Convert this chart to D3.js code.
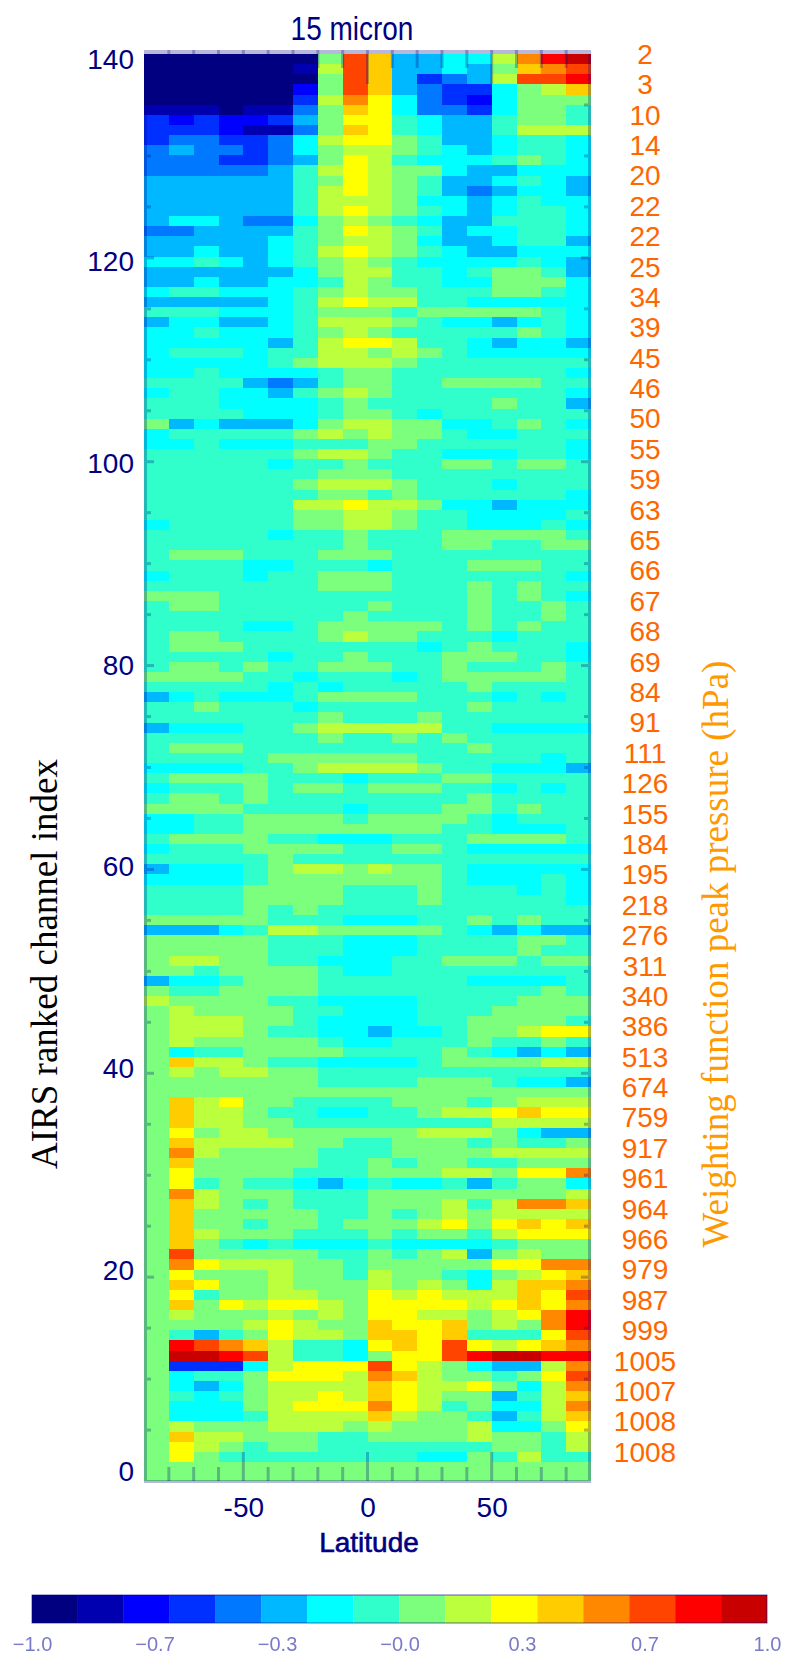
<!DOCTYPE html>
<meta charset="utf-8">
<style>
body { margin: 0; background: #fff; }
text { font-family: "Liberation Sans", Arial, sans-serif; }
.serif { font-family: "Liberation Serif", "Times New Roman", serif; }
</style>
<body>
<script src="https://cdn.jsdelivr.net/npm/d3@7/dist/d3.min.js"></script>
<script>

var latitudeEdges = [-90,-80,-70,-60,-50,-40,-30,-20,-10,0,10,20,30,40,50,60,70,80,90];

var yTicks = [0,20,40,60,80,100,120,140];
var xTicks = [-50,0,50];

var pressureLabels = [2,3,10,14,20,22,22,25,34,39,45,46,50,55,59,63,65,66,67,68,69,84,91,111,126,155,184,195,218,276,311,340,386,513,674,759,917,961,964,966,979,987,999,1005,1007,1008,1008];

var bandColors = ["#000080","#0000b0","#0000ff","#0030ff","#0078ff","#00b8ff","#00ffff","#30ffcc","#7cff7c","#bcff3c","#ffff00","#ffcc00","#ff8800","#ff4400","#ff0000","#c80000"];

var colorbarTicks = [-1,-2/3,-1/3,0,1/3,2/3,1];
var colorbarLabels = ["\u22121.0","\u22120.7","\u22120.3","\u22120.0","0.3","0.7","1.0"];

// channel 139 (top) down to channel 0 (bottom), one value per latitude bin
var correlation = [
[-.9,-.9,-.9,-.9,-.9,-.9,-.9,.1,.7,.4,-.3,-.3,-.2,-.2,.2,.6,.8,.9],
[-.9,-.9,-.9,-.9,-.9,-.9,-.8,.2,.7,.4,-.3,-.3,-.2,-.3,.1,.4,.6,.7],
[-.9,-.9,-.9,-.9,-.9,-.9,-.9,.1,.7,.4,-.3,-.6,-.4,-.3,.2,.7,.7,.8],
[-.9,-.9,-.9,-.9,-.9,-.9,-.7,.1,.7,.4,-.3,-.4,-.6,-.6,-.2,.1,.2,.4],
[-.9,-.9,-.9,-.9,-.9,-.9,-.6,.2,.6,.3,-.2,-.4,-.6,-.7,-.2,.1,.1,.1],
[-.8,-.8,-.8,-.9,-.8,-.8,-.4,.1,.4,.3,-.2,-.4,-.4,-.6,-.2,.1,.1,-.1],
[-.6,-.7,-.6,-.7,-.7,-.6,-.3,.1,.3,.3,-.1,-.2,-.3,-.3,-.1,.1,.1,-.1],
[-.6,-.6,-.6,-.7,-.8,-.8,-.4,.1,.4,.3,-.1,-.2,-.3,-.3,-.1,.2,.2,.2],
[-.6,-.4,-.4,-.6,-.6,-.4,-.2,.2,.3,.3,.1,-.1,-.3,-.3,-.2,-.1,-.1,-.2],
[-.4,-.3,-.4,-.4,-.6,-.4,-.2,.1,.2,.2,.1,-.1,-.2,-.3,-.2,-.1,-.1,-.2],
[-.4,-.4,-.4,-.6,-.6,-.4,-.3,.1,.3,.2,-.1,-.2,-.2,-.2,-.1,.1,-.1,-.2],
[-.4,-.4,-.4,-.4,-.4,-.3,-.1,.2,.3,.2,.1,.1,-.2,-.3,-.3,-.2,-.2,-.2],
[-.3,-.3,-.3,-.3,-.3,-.3,-.1,.1,.3,.2,.1,-.1,-.3,-.3,-.2,-.1,-.2,-.3],
[-.3,-.3,-.3,-.3,-.3,-.3,-.1,.2,.3,.2,.1,-.1,-.3,-.4,-.3,-.2,-.2,-.3],
[-.3,-.3,-.3,-.3,-.3,-.3,-.1,.2,.2,.2,.1,-.2,-.2,-.3,-.2,-.1,-.2,-.2],
[-.3,-.3,-.3,-.3,-.3,-.3,-.1,.2,.3,.2,.1,-.1,-.2,-.3,-.2,-.1,-.1,-.2],
[-.3,-.2,-.2,-.3,-.4,-.4,-.2,.1,.2,.1,-.1,-.2,-.3,-.3,-.1,-.1,-.1,-.2],
[-.4,-.4,-.3,-.3,-.3,-.3,-.1,.1,.3,.2,.1,-.1,-.3,-.2,-.2,-.1,-.1,-.2],
[-.3,-.3,-.3,-.3,-.3,-.2,-.1,.1,.2,.2,.1,-.2,-.3,-.3,-.2,-.1,-.1,-.3],
[-.3,-.3,-.2,-.3,-.3,-.2,-.1,.2,.3,.2,.1,-.1,-.2,-.3,-.3,-.2,-.2,-.2],
[-.2,-.2,-.1,-.2,-.3,-.2,-.1,.1,.2,.1,-.1,-.2,-.2,-.2,-.2,-.1,-.2,-.3],
[-.3,-.3,-.3,-.3,-.3,-.3,-.2,.1,.2,.2,-.1,-.1,-.2,-.1,.1,.1,-.1,-.3],
[-.3,-.3,-.2,-.3,-.3,-.2,-.2,-.1,.2,.1,-.1,-.1,-.2,-.2,.1,.1,.1,-.2],
[-.2,-.1,-.1,-.2,-.2,-.2,-.1,.1,.2,.1,.1,-.1,-.1,-.1,.1,.1,-.1,-.2],
[-.3,-.3,-.3,-.3,-.3,-.2,-.1,.2,.3,.2,.2,-.1,-.1,-.2,-.2,-.2,-.2,-.2],
[-.1,-.1,-.1,-.2,-.2,-.2,-.1,.1,.1,.1,-.1,.1,.1,.1,.1,.1,-.1,-.2],
[-.3,-.2,-.2,-.3,-.3,-.2,-.1,.2,.2,.2,.1,-.1,-.2,-.2,-.3,-.2,-.1,-.2],
[-.2,-.2,-.1,-.2,-.2,-.2,-.1,.1,.2,.1,-.1,-.1,-.1,-.1,-.1,.1,-.1,-.2],
[-.2,-.2,-.2,-.2,-.2,-.3,-.1,.2,.3,.3,.2,-.1,-.1,-.2,-.3,-.2,-.2,-.3],
[-.2,-.1,-.1,-.1,-.2,-.1,-.1,.2,.2,.1,.2,.1,-.1,-.2,-.2,-.2,-.2,-.2],
[-.2,-.2,-.2,-.2,-.2,-.1,.1,.2,.2,.2,.1,-.1,-.1,-.1,-.1,-.1,-.1,-.1],
[-.2,-.2,-.1,-.2,-.2,-.2,-.2,-.1,.1,.1,-.1,-.1,-.1,-.1,-.1,-.1,-.1,-.2],
[-.1,-.1,-.1,-.1,-.3,-.4,-.3,-.1,.1,.1,-.1,-.1,.1,.1,.1,.1,-.1,-.1],
[-.2,-.1,-.1,-.2,-.2,-.3,-.1,.1,.2,.1,-.1,-.1,-.1,-.1,-.1,-.1,-.1,-.2],
[-.1,-.1,-.1,-.2,-.2,-.2,-.2,-.1,.1,-.1,-.1,-.1,-.1,-.1,.1,-.1,-.1,-.3],
[-.1,-.1,-.1,-.1,-.2,-.2,-.2,-.1,.1,.1,-.1,-.2,-.1,-.1,-.1,-.1,-.1,-.1],
[.1,-.3,-.2,-.3,-.3,-.3,-.2,.1,.2,.2,.1,.1,-.2,-.2,-.1,.1,-.1,-.2],
[-.2,-.1,-.1,-.1,-.1,-.1,.1,.2,.1,.2,.1,.1,-.1,-.2,-.2,-.1,-.1,-.1],
[-.2,-.2,-.1,-.2,-.2,-.2,-.1,-.1,-.1,.1,.1,-.1,-.1,-.1,-.1,-.1,-.1,-.2],
[-.1,-.1,-.1,-.1,-.1,-.1,.1,.2,.2,.1,-.1,-.1,-.2,-.2,-.2,-.1,-.1,-.2],
[-.1,-.1,-.1,-.1,-.1,-.2,-.1,-.1,.1,-.1,-.1,-.1,.1,.1,-.1,.1,.1,-.1],
[-.1,-.1,-.1,-.1,-.1,-.1,-.1,.1,.1,.1,-.1,-.1,-.1,-.1,-.1,-.1,-.1,-.1],
[-.1,-.1,-.1,-.1,-.1,-.1,.1,.2,.2,.2,.1,-.1,-.1,-.1,-.2,-.1,-.1,-.1],
[-.1,-.1,-.1,-.1,-.1,-.1,-.1,.1,.1,-.1,.1,-.1,-.1,-.1,-.1,-.1,-.1,-.2],
[-.1,-.1,-.1,-.1,-.1,-.1,.2,.2,.3,.2,.2,.1,-.2,-.2,-.3,-.2,-.2,-.2],
[-.1,-.1,-.1,-.1,-.1,-.1,.1,.1,.2,.2,.1,-.1,-.1,-.2,-.2,-.2,-.2,-.1],
[-.2,-.1,-.1,-.1,-.1,-.1,.1,.1,.2,.2,.1,-.1,-.1,-.2,-.2,-.2,-.1,-.2],
[-.1,-.1,-.1,-.1,-.1,-.2,-.1,-.1,.1,-.1,-.1,-.1,.1,.1,.1,.1,.1,-.1],
[-.1,-.1,-.1,-.1,-.1,-.1,-.1,-.1,.1,-.1,-.1,-.1,.1,.1,-.1,-.1,.1,.1],
[-.1,.1,.1,.1,-.1,-.1,-.1,.1,.1,.1,-.1,-.1,-.1,-.1,-.1,-.1,-.1,-.1],
[-.1,-.1,-.1,-.1,-.2,-.2,-.1,-.1,-.1,-.2,-.1,-.1,-.1,.1,.1,.1,-.1,-.1],
[-.2,-.1,-.1,-.1,-.2,-.1,-.1,.1,.1,.1,-.1,-.1,-.1,-.1,-.1,-.1,-.1,-.2],
[-.1,-.1,-.1,-.1,-.1,-.1,-.1,.1,.1,.1,-.1,-.1,-.1,.1,-.1,.1,-.1,-.1],
[.1,.1,.1,-.1,-.1,-.1,-.1,-.1,-.1,-.1,-.1,-.1,-.1,.1,-.1,.1,-.1,-.2],
[-.1,.1,.1,-.1,-.1,-.1,-.1,-.1,-.1,.1,-.1,-.1,-.1,.1,-.1,-.1,.1,-.1],
[-.1,-.1,-.1,-.1,-.1,-.1,-.1,-.1,.1,-.1,-.1,-.1,-.1,.1,-.1,-.1,.1,-.1],
[-.1,-.1,-.1,-.1,-.2,-.2,-.1,.1,.1,.1,.1,.1,-.1,.1,-.1,.1,-.1,-.1],
[-.1,.1,.1,-.1,-.1,-.1,-.1,.1,.2,.1,.1,-.1,-.1,-.1,-.2,-.1,-.1,-.1],
[-.1,.1,.1,.1,-.1,-.1,-.1,-.1,-.1,-.1,-.1,-.2,-.1,.1,-.1,-.1,-.1,-.2],
[-.1,-.1,-.1,-.1,-.1,-.2,-.1,-.1,.1,-.1,-.1,-.1,.1,.1,.1,-.1,-.1,-.2],
[-.1,.1,.1,-.1,.1,-.1,-.1,.1,.1,.1,-.1,-.1,.1,-.1,-.1,-.1,.1,-.1],
[.1,.1,.1,.1,-.1,-.1,-.2,-.1,-.1,-.1,-.2,-.1,.1,.1,.1,.1,.1,-.1],
[-.1,-.1,-.1,-.1,-.1,-.2,-.1,-.2,-.1,-.1,-.1,-.1,-.1,.1,-.1,-.1,-.1,-.1],
[-.3,-.2,-.1,-.2,-.2,-.2,-.1,.1,.1,.1,.1,-.1,-.1,-.1,-.2,-.1,-.2,-.1],
[-.1,-.1,.1,-.1,-.1,-.1,-.2,-.1,-.1,-.1,-.1,-.1,-.1,.1,-.1,-.1,-.1,-.1],
[-.1,-.1,-.1,-.1,-.1,-.1,-.1,.1,-.1,-.1,-.1,.1,-.1,-.1,-.1,-.1,-.1,-.1],
[-.3,-.2,-.2,-.2,-.1,-.1,.1,.2,.2,.2,.2,.2,-.1,-.1,-.2,-.2,-.2,-.2],
[-.1,-.1,-.1,-.1,-.1,-.1,-.1,.1,-.1,-.1,.1,-.1,.1,-.1,-.1,-.1,-.1,-.1],
[-.1,.1,.1,.1,-.1,-.1,-.1,-.1,-.1,-.1,-.1,-.1,-.1,.1,-.1,-.1,-.1,-.1],
[-.1,-.1,-.1,-.1,-.1,.1,.1,.1,.1,.1,.1,-.1,-.1,-.1,-.1,-.1,-.2,-.1],
[-.2,-.2,-.2,-.2,-.1,-.1,.1,.2,.2,.2,.2,.1,-.1,-.1,-.2,-.2,-.2,-.3],
[-.1,.1,.1,.1,.1,-.1,-.1,-.1,-.2,-.1,-.1,-.1,.1,.1,-.1,-.1,-.1,-.1],
[-.2,-.1,-.1,-.1,.1,-.1,.1,.1,-.1,.1,.1,.1,-.1,-.1,-.2,-.1,-.2,-.1],
[-.1,.1,.1,-.1,.1,-.1,-.1,-.1,-.1,-.1,-.1,-.1,-.1,.1,-.1,-.1,-.1,-.1],
[.1,.1,.1,.1,-.1,-.1,-.1,-.1,-.2,-.1,-.1,-.1,.1,.1,-.1,.1,-.1,-.1],
[-.2,-.2,-.1,-.1,.1,.1,.1,.1,-.1,.1,.1,.1,.1,-.1,-.2,-.1,-.1,-.1],
[-.2,-.2,-.1,-.1,.1,.1,.1,.1,.1,.1,.1,.1,-.1,-.1,-.2,-.2,-.2,-.1],
[-.1,.1,.1,.1,.1,-.1,-.1,-.2,-.2,-.2,-.1,-.1,-.1,.1,.1,.1,.1,-.1],
[-.2,-.1,-.1,-.1,.1,.1,.1,.1,-.1,-.1,.1,.1,-.1,-.2,-.2,-.2,-.2,-.2],
[-.1,-.1,-.1,-.1,-.1,.1,-.1,-.1,-.1,-.1,-.1,-.1,-.1,-.1,-.1,-.1,-.1,-.1],
[-.3,-.2,-.2,-.2,-.1,.1,.2,.2,.1,.2,.1,.1,-.1,-.2,-.2,-.2,-.2,-.2],
[-.2,-.2,-.2,-.2,-.1,.1,.1,.1,.1,.1,.1,.1,-.1,-.2,-.2,-.2,-.1,-.2],
[-.1,-.1,-.1,-.1,.1,.1,.1,.1,-.1,-.1,-.1,.1,-.1,-.1,-.1,-.2,-.1,-.2],
[-.1,-.1,-.1,-.1,.1,.1,.1,.1,-.1,-.1,-.1,.1,-.1,-.1,-.1,-.1,-.1,-.2],
[-.1,-.1,-.1,-.1,.1,-.1,.1,-.1,-.1,-.1,-.1,-.1,-.1,-.1,-.1,-.1,-.1,-.1],
[.1,.1,.1,.1,.1,-.1,-.1,-.1,-.2,-.2,-.2,-.1,-.1,.1,-.1,.1,-.1,-.1],
[-.3,-.3,-.3,-.2,-.1,.2,.2,.1,.1,.1,.1,.1,-.1,-.2,-.3,-.2,-.3,-.3],
[.1,.1,.1,.1,.1,-.1,-.1,-.1,-.2,-.2,-.2,-.1,-.1,-.1,-.1,.1,.1,-.1],
[.1,.1,.1,.1,.1,-.1,-.1,-.1,-.2,-.2,-.2,-.1,-.1,-.1,-.1,.1,-.1,-.1],
[.1,.2,.2,.1,.1,-.1,-.1,-.2,-.2,-.2,-.1,-.1,.1,.1,.1,-.1,.1,.1],
[.1,.1,-.1,.1,.1,.1,.1,-.1,-.2,-.2,-.1,-.1,-.1,-.1,-.1,-.1,-.1,-.1],
[-.3,-.2,-.2,-.1,.1,.1,.1,-.1,-.1,-.1,-.1,-.1,-.1,-.2,-.2,-.2,-.2,-.1],
[.1,-.1,-.1,.1,.1,.1,.1,-.1,-.1,-.1,-.1,-.1,-.1,-.1,-.1,-.1,.1,-.1],
[.2,.1,.1,.1,.1,-.1,-.1,-.2,-.2,-.2,-.2,-.1,-.1,-.1,-.1,.1,.1,.1],
[.1,.2,.1,.1,.1,.1,-.1,-.1,-.2,-.2,-.2,-.1,-.1,-.1,.1,.1,.1,.1],
[.1,.2,.2,.2,.1,.1,-.1,-.2,-.2,-.2,-.2,-.1,-.1,.1,.1,.1,.1,-.1],
[.1,.2,.2,.2,.1,-.1,-.1,-.2,-.2,-.3,-.2,-.2,-.1,.1,.1,.2,.3,.3],
[.1,.2,.1,.1,.1,.1,.1,-.1,-.2,-.2,-.1,-.1,-.1,.1,-.1,-.1,.1,-.1],
[.1,-.2,-.1,-.1,.1,.1,.1,.1,-.1,-.1,-.1,-.1,.1,-.1,-.2,-.3,-.2,-.3],
[.1,.4,.2,.2,.1,-.1,-.1,-.2,-.2,-.2,-.2,-.1,.1,.1,.1,.1,.2,.2],
[.1,.2,.1,.2,.2,.1,.1,-.1,-.1,-.1,-.1,-.1,-.1,-.1,-.1,-.1,-.1,-.1],
[.1,.1,.1,.1,.1,.1,.1,-.1,-.1,-.1,-.1,.1,.1,.1,-.1,-.2,-.2,-.3],
[.1,.1,.1,.1,.1,.1,.1,.1,.1,.1,.1,.1,.1,.1,.1,.1,.1,.1],
[.1,.4,.2,.3,.1,.1,-.1,-.1,-.1,-.1,.1,.1,.1,-.1,.1,.2,.2,.2],
[.1,.4,.2,.2,.1,-.1,-.1,-.2,-.2,-.1,-.1,.1,.2,.2,.3,.4,.3,.3],
[.1,.4,.2,.2,.1,.1,-.1,-.1,-.1,-.1,-.1,-.1,-.1,-.1,.2,.2,.2,.2],
[.1,.3,.1,.2,.2,.1,.1,.1,.1,.1,.1,.2,.2,.2,.1,-.2,-.3,-.3],
[.1,.4,.2,.2,.2,.2,.1,.1,-.1,-.1,.1,.1,.1,-.1,.1,-.1,-.1,.1],
[.1,.6,.2,.1,.1,.1,.1,-.1,-.1,-.1,.1,.1,.1,.1,.2,.2,.2,.2],
[.1,.4,.1,.1,.1,.1,.1,-.1,-.1,.1,-.1,.1,.1,-.1,-.1,.1,.1,.1],
[.1,.3,.1,.1,.1,.1,-.1,-.1,-.1,.1,.1,.1,.2,.2,.1,.3,.3,.6],
[.1,.3,-.1,.1,-.1,-.1,-.2,-.3,-.2,-.1,-.2,-.2,-.1,-.3,-.1,.1,.1,-.2],
[.1,.6,.2,.1,.1,.1,-.1,-.1,-.1,.1,.1,.1,.1,.1,.1,.1,.1,.2],
[.1,.4,.2,.1,-.1,.1,-.1,-.1,-.1,.1,.1,.1,.2,-.1,.2,.6,.6,.4],
[.1,.4,.1,.1,.1,.1,.1,-.1,-.1,.1,-.1,.1,.2,.1,.2,.2,.2,.2],
[.1,.4,.1,.1,-.1,.1,.1,-.1,.1,.1,.1,.2,.3,.1,.3,.4,.3,.4],
[.1,.4,.2,.1,.1,.1,-.1,-.1,-.1,.1,-.1,.1,.1,-.1,.2,.3,.3,.3],
[.1,.4,.1,-.1,-.2,-.1,-.2,-.2,-.2,-.1,-.2,-.2,-.2,-.2,-.1,.1,.1,.1],
[.1,.7,.1,.1,.1,.1,.1,-.1,-.1,.1,-.1,.1,.2,-.3,.1,.2,.1,.1],
[.1,.6,.3,.2,.2,.2,.1,.1,-.1,.1,.1,.1,.1,.1,.3,.3,.6,.6],
[.1,.3,.1,.1,.1,.2,.1,.1,-.1,.2,.1,.1,-.1,-.2,.1,.2,.3,.4],
[.1,.4,.3,.1,.1,.2,.1,.1,.1,.2,.1,.2,.1,-.2,.2,.4,.4,.6],
[.1,.3,-.1,.1,.1,.2,.2,.1,.1,.3,.2,.3,.2,.2,.2,.4,.3,.7],
[.1,.4,.1,.3,.2,.3,.3,.2,.1,.3,.3,.3,.3,.2,.3,.4,.3,.6],
[.1,.2,.1,.1,.1,.2,.1,.2,.1,.3,.3,.2,.2,.1,.2,.3,.6,.8],
[.1,.1,.1,.1,.2,.3,.2,.1,.1,.4,.3,.3,.4,.1,.2,.1,.6,.8],
[.1,-.1,-.3,-.1,.1,.3,.2,.2,.1,.4,.4,.3,.4,-.1,-.1,-.1,.3,.7],
[.1,.8,.7,.6,.4,.2,-.1,-.1,-.2,.3,.4,.3,.7,.3,.2,.3,.4,.6],
[.1,.9,.9,.8,.7,.2,-.1,-.1,-.2,.1,.3,.3,.7,.8,.9,.9,.8,.8],
[.1,-.6,-.6,-.6,-.2,.2,.3,.3,.3,.7,.3,.2,.1,-.2,-.3,-.3,.2,.6],
[.1,-.2,-.1,-.1,.1,.3,.3,.3,.2,.6,.4,.2,.1,.1,-.1,.1,.3,.7],
[.1,-.2,-.3,-.2,.1,.2,.2,.2,.2,.4,.3,.2,.2,.3,.1,-.2,.2,.6],
[.1,-.1,-.2,-.1,.1,.2,.2,.3,.2,.4,.3,.2,.1,.1,-.3,-.1,.2,.4],
[.1,-.2,-.2,-.2,.1,.2,.3,.3,.3,.6,.3,.2,-.1,.1,-.2,-.2,.2,.6],
[.1,-.2,-.2,-.2,-.1,.2,.2,.2,.2,.4,.2,.1,.1,-.1,-.3,-.1,.2,.4],
[.1,.2,.1,.1,.1,.2,.2,.2,.1,.2,.1,.1,.1,.2,-.2,-.2,.1,.3],
[.1,.4,.2,.2,.1,.1,.1,-.1,-.1,.1,.1,.1,.1,.2,.1,.1,-.1,.2],
[.1,.3,.2,.1,-.1,.1,.1,-.1,-.1,-.1,-.1,-.1,-.1,-.1,.1,.1,-.1,.2],
[.1,.3,.1,-.1,-.1,-.1,-.1,-.1,-.1,-.1,-.1,-.2,-.2,.1,-.1,.2,-.1,-.1],
[.1,.1,.1,.1,.1,.1,.1,.1,.1,.1,.1,.1,.1,.1,.1,.1,.1,.1]
];

var width = 789,
    height = 1661;

var navy = "#000080";

var x = d3.scaleLinear().domain([-90,90]).range([144,591]);

// tick scale, and a second one for the label text which sits a little off the ticks
var y = d3.scaleLinear().domain([0,140]).range([1481,54]);
var yLabel = d3.scaleLinear().domain([0,140]).range([1472,60]);

// rows keep a fixed height from the top, the last one runs on down to the axis
var rowY = d3.scaleLinear().domain([1,140]).range([1462,54]);

var color = d3.scaleQuantize().domain([-1,1]).range(bandColors);

var svg = d3.select("body").append("svg")
    .attr("width", width)
    .attr("height", height)
    .style("display", "block");

var rows = svg.append("g").selectAll("g")
    .data(correlation)
  .enter().append("g");

rows.each(function(row, i) {
  var channel = correlation.length - 1 - i,
      top = rowY(channel + 1),
      bottom = channel ? rowY(channel) : y(0);
  d3.select(this).selectAll("rect")
      .data(row)
    .enter().append("rect")
      .attr("x", function(d, j) { return x(latitudeEdges[j]); })
      .attr("width", function(d, j) { return x(latitudeEdges[j + 1]) - x(latitudeEdges[j]); })
      .attr("y", top)
      .attr("height", bottom - top)
      .attr("fill", function(d) { return color(d); })
      .attr("shape-rendering", "crispEdges");
});

// frame and ticks are see-through over the image
var frame = svg.append("g")
    .attr("fill", navy)
    .attr("fill-opacity", 0.28);

frame.append("rect").attr("x", 144).attr("y", 50).attr("width", 447).attr("height", 4);
frame.append("rect").attr("x", 144).attr("y", 1480).attr("width", 447).attr("height", 3);
frame.append("rect").attr("x", 144).attr("y", 54).attr("width", 3).attr("height", 1426);
frame.append("rect").attr("x", 588).attr("y", 54).attr("width", 3).attr("height", 1426);

frame.selectAll(".xt")
    .data(latitudeEdges.slice(1, -1))
  .enter().append("rect")
    .attr("x", function(d) { return x(d) - 1.5; })
    .attr("width", 3)
    .attr("y", 50)
    .attr("height", function(d) { return d % 50 ? 18 : 34; });

frame.selectAll(".xb")
    .data(latitudeEdges.slice(1, -1))
  .enter().append("rect")
    .attr("x", function(d) { return x(d) - 1.5; })
    .attr("width", 3)
    .attr("y", function(d) { return d % 50 ? 1467 : 1452; })
    .attr("height", function(d) { return d % 50 ? 14 : 29; });

var yMarks = d3.range(5, 140, 5);

frame.selectAll(".yl")
    .data(yMarks)
  .enter().append("rect")
    .attr("x", 147)
    .attr("y", function(d) { return y(d) - 1.5; })
    .attr("height", 3)
    .attr("width", function(d) { return d % 20 ? 4 : 7; });

frame.selectAll(".yr")
    .data(yMarks)
  .enter().append("rect")
    .attr("x", function(d) { return d % 20 ? 584 : 581; })
    .attr("y", function(d) { return y(d) - 1.5; })
    .attr("height", 3)
    .attr("width", function(d) { return d % 20 ? 4 : 7; });

// tick labels
var yAxis = svg.append("g")
    .attr("transform", "translate(144,0)")
    .call(d3.axisLeft(yLabel).tickValues(yTicks).tickSize(0).tickPadding(10));
yAxis.select(".domain").remove();
yAxis.selectAll("text").attr("fill", navy).style("font-size", "28px").style("font-family", "Liberation Sans");

var xAxis = svg.append("g")
    .attr("transform", "translate(0,1482)")
    .call(d3.axisBottom(x).tickValues(xTicks).tickSize(0).tickPadding(15).tickFormat(function(d) { return String(d); }));
xAxis.select(".domain").remove();
xAxis.selectAll("text").attr("fill", navy).style("font-size", "28px").style("font-family", "Liberation Sans");

svg.append("text")
    .attr("transform", "translate(352,40) scale(1,1.2)")
    .attr("text-anchor", "middle")
    .attr("fill", navy)
    .style("font-size", "28px")
    .text("15 micron");

svg.append("text")
    .attr("x", 369)
    .attr("y", 1552)
    .attr("text-anchor", "middle")
    .attr("fill", navy)
    .attr("stroke", navy)
    .attr("stroke-width", 0.6)
    .style("font-size", "28px")
    .text("Latitude");

svg.append("text")
    .attr("class", "serif")
    .attr("transform", "translate(57,964) rotate(-90)")
    .attr("text-anchor", "middle")
    .attr("fill", "#000")
    .style("font-size", "37px")
    .text("AIRS ranked channel index");

svg.append("text")
    .attr("class", "serif")
    .attr("transform", "translate(728,954) rotate(-90)")
    .attr("text-anchor", "middle")
    .attr("fill", "#ff9900")
    .style("font-size", "37px")
    .text("Weighting function peak pressure (hPa)");

// pressure of every third channel, evenly spaced down the right side
var pressureY = d3.scalePoint()
    .domain(d3.range(pressureLabels.length))
    .range([54,1452]);

svg.append("g").selectAll("text")
    .data(pressureLabels)
  .enter().append("text")
    .attr("x", 645)
    .attr("y", function(d, i) { return pressureY(i); })
    .attr("dy", "0.35em")
    .attr("text-anchor", "middle")
    .attr("fill", "#ff6600")
    .style("font-size", "28px")
    .text(function(d) { return d; });

// colour bar
var cb = d3.scaleLinear().domain([-1,1]).range([32,767]);

var bar = svg.append("g").style("filter", "blur(0.6px)");

bar.selectAll("rect")
    .data(bandColors)
  .enter().append("rect")
    .attr("x", function(d) { return cb(color.invertExtent(d)[0]); })
    .attr("width", function(d) { var e = color.invertExtent(d); return cb(e[1]) - cb(e[0]); })
    .attr("y", 1595)
    .attr("height", 28)
    .attr("fill", function(d) { return d; });

bar.append("rect")
    .attr("x", 32)
    .attr("y", 1595)
    .attr("width", 735)
    .attr("height", 28)
    .attr("fill", "none")
    .attr("stroke", navy)
    .attr("stroke-opacity", 0.6);

var cbAxis = svg.append("g")
    .attr("transform", "translate(0,1623)")
    .style("filter", "blur(0.5px)")
    .call(d3.axisBottom(cb).tickValues(colorbarTicks).tickSize(0).tickPadding(14).tickFormat(function(d, i) { return colorbarLabels[i]; }));
cbAxis.select(".domain").remove();
cbAxis.selectAll("text").attr("fill", "#7a7ac8").style("font-size", "20px").style("font-family", "Liberation Sans");

</script>
